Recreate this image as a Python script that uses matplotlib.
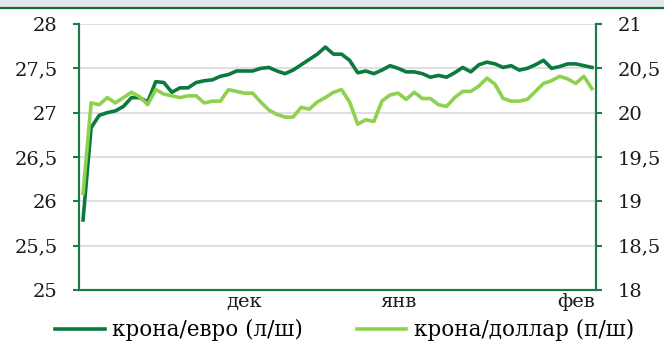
import matplotlib
matplotlib.use("Agg")
import matplotlib.pyplot as plt
from matplotlib.lines import Line2D
from matplotlib.patches import Rectangle
from matplotlib.ticker import FuncFormatter, MultipleLocator

# Exchange-rate series (one value per observation)
czk_eur = [25.79, 26.83, 26.97, 27.00, 27.02, 27.07, 27.17, 27.17, 27.12, 27.35,
           27.34, 27.23, 27.28, 27.28, 27.34, 27.36, 27.37, 27.41, 27.43, 27.47,
           27.47, 27.47, 27.50, 27.51, 27.47, 27.44, 27.48, 27.54, 27.60, 27.66,
           27.74, 27.66, 27.66, 27.59, 27.45, 27.47, 27.44, 27.48, 27.53, 27.50,
           27.46, 27.46, 27.44, 27.40, 27.42, 27.40, 27.45, 27.51, 27.46, 27.54,
           27.57, 27.55, 27.51, 27.53, 27.48, 27.50, 27.54, 27.59, 27.50, 27.52,
           27.55, 27.55, 27.53, 27.51]
czk_usd = [19.09, 20.11, 20.09, 20.17, 20.11, 20.17, 20.23, 20.18, 20.09, 20.26,
           20.21, 20.19, 20.17, 20.19, 20.19, 20.11, 20.13, 20.13, 20.26, 20.24,
           20.22, 20.22, 20.12, 20.03, 19.98, 19.95, 19.95, 20.06, 20.04, 20.12,
           20.17, 20.23, 20.26, 20.12, 19.87, 19.92, 19.90, 20.13, 20.20, 20.22,
           20.15, 20.23, 20.16, 20.16, 20.09, 20.07, 20.17, 20.24, 20.24, 20.30,
           20.39, 20.32, 20.16, 20.13, 20.13, 20.15, 20.24, 20.33, 20.36, 20.41,
           20.38, 20.33, 20.41, 20.27]
month_labels = ["дек", "янв", "фев"]
month_positions = [20, 39, 61]
series_names = ["крона/евро (л/ш)", "крона/доллар (п/ш)"]

DARK = "#0b7a3d"
LIGHT = "#8fd14f"
AXIS = "#1a7a48"
GRID = "#d9d9d9"

plt.rcParams["font.family"] = ["DejaVu Serif"]

W, H = 664, 345
fig = plt.figure(figsize=(W / 100, H / 100), dpi=100)

# header band
fig.patches.append(Rectangle((0, 1 - 7 / H), 1, 7 / H, transform=fig.transFigure,
                             facecolor="#e4e7eb", edgecolor="none", zorder=0))
fig.lines.append(Line2D([0, 1], [1 - 8 / H, 1 - 8 / H], transform=fig.transFigure,
                        color="#0e6b3a", lw=1.6))

ax = fig.add_axes([79 / W, 1 - 290 / H, (596 - 79) / W, (290 - 24) / H])
ax2 = ax.twinx()

x = list(range(len(czk_eur)))
l1, = ax.plot(x, czk_eur, color=DARK, lw=2.6, solid_joinstyle="round", zorder=3)
l2, = ax2.plot(x, czk_usd, color=LIGHT, lw=2.6, solid_joinstyle="round", zorder=3)

ax.set_xlim(-0.5, len(czk_eur) - 0.5)
ax.set_ylim(25, 28)
ax2.set_ylim(18, 21)
ax.yaxis.set_major_locator(MultipleLocator(0.5))
ax2.yaxis.set_major_locator(MultipleLocator(0.5))

fmt = FuncFormatter(lambda v, p: f"{v:g}".replace(".", ","))
ax.yaxis.set_major_formatter(fmt)
ax2.yaxis.set_major_formatter(fmt)

ax.set_xticks(month_positions)
ax.set_xticklabels(month_labels)

ax.grid(axis="y", color=GRID, lw=1.2, zorder=0)
ax.set_axisbelow(True)

for a in (ax, ax2):
    a.spines["top"].set_visible(False)
    for s in ("left", "right", "bottom"):
        a.spines[s].set_color(AXIS)
        a.spines[s].set_linewidth(1.5)
    a.patch.set_visible(False)

ax.tick_params(axis="y", length=4.5, width=1.5, color=AXIS, pad=11,
               labelsize=14, labelcolor="#1a1a1a")
ax2.tick_params(axis="y", length=4.5, width=1.5, color=AXIS, pad=11,
                labelsize=14, labelcolor="#1a1a1a")
ax.tick_params(axis="x", length=0, pad=2, labelsize=14, labelcolor="#1a1a1a")

fig.legend([l1, l2], series_names, loc="upper left", ncol=2, frameon=False,
           bbox_to_anchor=(55 / W, 1 - 319 / H), fontsize=15.5, handlelength=2.3,
           handletextpad=0.35, columnspacing=2.5, borderpad=0, borderaxespad=0)

fig.savefig("out.png", dpi=100)
